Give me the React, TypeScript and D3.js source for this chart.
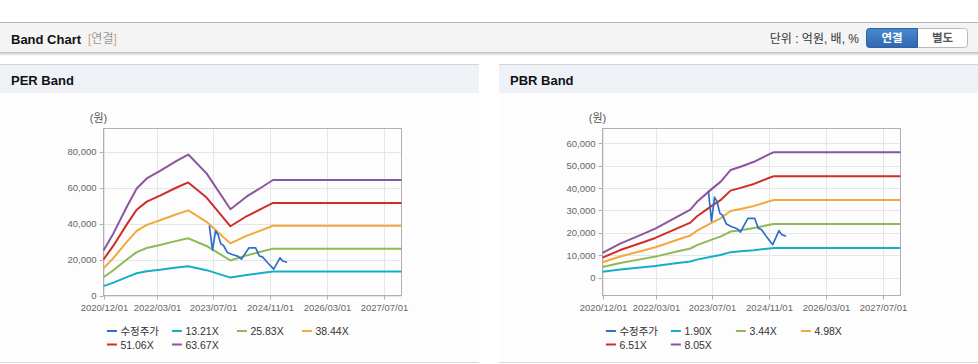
import React from "react";
import * as d3 from "d3";

// ---------- DATA ----------
const perBandDates = ["2020-12-01","2021-02-24","2021-06-19","2021-09-12","2021-12-07","2022-03-31","2022-08-20","2022-11-28","2023-05-04","2023-11-25","2024-04-10","2024-08-02","2024-11-24","2027-12-01"];
const perLabels = ["13.21X","25.83X","38.44X","51.06X","63.67X"];
const per1321 = [5190,7170,10250,12360,13530,14400,15560,16290,14110,9970,11410,12360,13340,13340];
const per2583 = [10150,14030,20040,24180,26450,28150,30430,31850,27590,19500,22320,24180,26090,26090];
const per3844 = [15110,20870,29830,35980,39360,41900,45280,47400,41050,29020,33210,35980,38820,38820];
const per5106 = [20070,27730,39620,47790,52290,55660,60150,62960,54530,38550,44120,47790,51570,51570];
const per6367 = [25020,34570,49410,59600,65200,69400,75000,78500,68000,48070,55010,59600,64310,64310];

const pbrBandDates = ["2020-12-01","2021-05-02","2021-10-21","2022-02-27","2022-08-04","2022-12-25","2023-02-20","2023-07-02","2023-09-09","2023-12-04","2024-02-28","2024-06-22","2024-11-01","2024-12-11","2027-12-01"];
const pbrLabels = ["1.90X","3.44X","4.98X","6.51X","8.05X"];
const pbr190 = [2600,3590,4480,5170,6230,7170,8000,9420,10100,11350,11710,12230,13030,13240,13240];
const pbr344 = [4700,6490,8120,9360,11280,12990,14490,17050,18290,20550,21190,22140,23590,23970,23970];
const pbr498 = [6800,9400,11750,13550,16330,18800,20970,24690,26480,29760,30680,32050,34150,34710,34710];
const pbr651 = [8890,12290,15360,17710,21350,24580,27410,32270,34610,38900,40110,41890,44640,45370,45370];
const pbr805 = [11000,15200,19000,21900,26400,30400,33900,39900,42800,48100,49600,51800,55200,56100,56100];

const priceDates = ["2023-05-28","2023-06-24","2023-07-20","2023-08-10","2023-09-04","2023-09-25","2023-10-29","2023-12-10","2024-01-30","2024-02-27","2024-05-01","2024-06-28","2024-07-30","2024-08-25","2024-10-05","2024-11-30","2025-01-23","2025-02-15","2025-03-25"];
const priceValues = [38900,25200,36000,34000,28700,28000,24000,22800,21800,20300,26500,26500,22000,21500,18500,14700,21000,19200,18500];

const xTickDates = ["2020-12-01","2022-03-01","2023-07-01","2024-11-01","2026-03-01","2027-07-01"];
const perYTicks = [0,20000,40000,60000,80000];
const pbrYTicks = [0,10000,20000,30000,40000,50000,60000];
const xDomain = ["2020-12-01","2027-12-01"];

const priceLabel = "수정주가";
const colors = ["#2f6fca","#16aec4","#8dba55","#f3a83c","#cf2e27","#8b569d"];

const FONT = "'Liberation Sans', Arial, 'Noto Sans CJK KR', sans-serif";
const parse = d3.timeParse("%Y-%m-%d");
const fmtDate = d3.timeFormat("%Y/%m/%d");
const fmtNum = d3.format(",");

type ChartProps = {
  ox: number; left: number; right: number; yMin: number; yMax: number;
  yTicks: number[]; bandDates: string[]; bands: number[][]; labels: string[]; title: string;
};

function BandPanel(p: ChartProps) {
  const top = 128.5, bottom = 295.5;
  const x = d3.scaleTime().domain(xDomain.map((d) => parse(d) as Date)).range([p.left, p.right]);
  const y = d3.scaleLinear().domain([p.yMin, p.yMax]).range([bottom, top]);
  const line = d3.line<[Date, number]>().x((d) => x(d[0])).y((d) => y(d[1]));
  const bDates = p.bandDates.map((d) => parse(d) as Date);
  const pDates = priceDates.map((d) => parse(d) as Date);
  const legendItems = [priceLabel, ...p.labels];
  const legX0 = p.left + 3.4;
  return (
    <g>
      <rect x={p.ox} y={64} width={479} height={299} fill="#fdfdfd" />
      <rect x={p.ox} y={64} width={479} height={1} fill="#d4d4d4" />
      <rect x={p.ox} y={65} width={479} height={28} fill="#eef2f7" />
      <text x={p.ox + 11} y={85} fontFamily={FONT} fontWeight="bold" fontSize={13} fill="#111">{p.title}</text>
      <rect x={p.ox} y={362} width={479} height={1} fill="#d8d8d8" />
      {/* grid */}
      {p.yTicks.map((t) => (
        <line key={"gy" + t} x1={p.left} x2={p.right} y1={Math.round(y(t)) + 0.5} y2={Math.round(y(t)) + 0.5} stroke="#e6e6e6" />
      ))}
      {xTickDates.map((t) => {
        const xx = Math.round(x(parse(t) as Date)) + 0.5;
        return <line key={"gx" + t} x1={xx} x2={xx} y1={top} y2={bottom} stroke="#e6e6e6" />;
      })}
      {/* border */}
      <rect x={p.left} y={top} width={p.right - p.left} height={bottom - top} fill="none" stroke="#b0b0b0" />
      {/* y ticks */}
      {p.yTicks.map((t) => (
        <g key={"ty" + t}>
          <line x1={p.left - 4} x2={p.left} y1={Math.round(y(t)) + 0.5} y2={Math.round(y(t)) + 0.5} stroke="#b0b0b0" />
          <text x={p.left - 7} y={y(t) + 3.5} textAnchor="end" fontFamily={FONT} fontSize={9.5} fill="#666">{fmtNum(t)}</text>
        </g>
      ))}
      {xTickDates.map((t) => {
        const xx = Math.round(x(parse(t) as Date)) + 0.5;
        return (
          <g key={"tx" + t}>
            <line x1={xx} x2={xx} y1={bottom} y2={bottom + 4} stroke="#b0b0b0" />
            <text x={xx} y={311} textAnchor="middle" fontFamily={FONT} fontSize={9.5} fill="#666">{fmtDate(parse(t) as Date)}</text>
          </g>
        );
      })}
      <text x={p.left - 5} y={122} textAnchor="middle" fontFamily={FONT} fontSize={11} fill="#555">(원)</text>
      {/* bands */}
      {p.bands.map((vals, i) => (
        <path key={"b" + i} d={line(bDates.map((d, j) => [d, vals[j]])) || ""} fill="none" stroke={colors[i + 1]} strokeWidth={2} strokeLinejoin="round" />
      ))}
      <path d={line(pDates.map((d, j) => [d, priceValues[j]])) || ""} fill="none" stroke={colors[0]} strokeWidth={1.7} strokeLinejoin="round" />
      {/* legend */}
      {legendItems.map((lab, i) => {
        const col = i % 4, row = Math.floor(i / 4);
        const lx = legX0 + col * 65;
        const ly = 331 + row * 13.5;
        return (
          <g key={"l" + i}>
            <line x1={lx} x2={lx + 10} y1={ly} y2={ly} stroke={colors[i]} strokeWidth={2} />
            <text x={lx + 13.5} y={ly + 4} fontFamily={FONT} fontSize={10.5} fill="#333">{lab}</text>
          </g>
        );
      })}
    </g>
  );
}

export default function App() {
  return (
    <svg width={978} height={364} style={{ position: "absolute", left: 0, top: 0, background: "#fff" }}>
      <defs>
        <linearGradient id="shadow" x1="0" y1="0" x2="0" y2="1">
          <stop offset="0" stopColor="#bdbdbd" />
          <stop offset="1" stopColor="#ffffff" />
        </linearGradient>
        <linearGradient id="btn" x1="0" y1="0" x2="0" y2="1">
          <stop offset="0" stopColor="#4a88cf" />
          <stop offset="1" stopColor="#2d68b0" />
        </linearGradient>
      </defs>
      <rect x={0} y={0} width={978} height={364} fill="#fff" />
      {/* header */}
      <rect x={0} y={22} width={978} height={1} fill="#b4b4b4" />
      <rect x={0} y={23} width={978} height={30} fill="#f4f4f4" />
      <rect x={0} y={52} width={978} height={4} fill="url(#shadow)" />
      <text x={11} y={44} fontFamily={FONT} fontWeight="bold" fontSize={13} fill="#111">Band Chart</text>
      <text x={88} y={43} fontFamily={FONT} fontSize={12} fill="#999">
        <tspan fill="#d4a46c">[</tspan>연결<tspan fill="#d4a46c">]</tspan>
      </text>
      <text x={859} y={43} textAnchor="end" fontFamily={FONT} fontSize={12} fill="#333">단위 : 억원, 배, %</text>
      <rect x={866.5} y={28.5} width={101} height={19} rx={3} fill="#fff" stroke="#b8b8b8" />
      <path d="M869.5,28.5 H917.5 V47.5 H869.5 A3,3 0 0 1 866.5,44.5 V31.5 A3,3 0 0 1 869.5,28.5 Z" fill="url(#btn)" stroke="#2a62a6" />
      <text x={892} y={42} textAnchor="middle" fontFamily={FONT} fontWeight="bold" fontSize={11.5} fill="#fff">연결</text>
      <text x={942.5} y={42} textAnchor="middle" fontFamily={FONT} fontWeight="bold" fontSize={11.5} fill="#555">별도</text>
      <BandPanel ox={0} left={103.5} right={401.5} yMin={0} yMax={93000} yTicks={perYTicks}
        bandDates={perBandDates} bands={[per1321, per2583, per3844, per5106, per6367]} labels={perLabels} title="PER Band" />
      <BandPanel ox={499} left={602.5} right={900.5} yMin={-8050} yMax={66700} yTicks={pbrYTicks}
        bandDates={pbrBandDates} bands={[pbr190, pbr344, pbr498, pbr651, pbr805]} labels={pbrLabels} title="PBR Band" />
    </svg>
  );
}
